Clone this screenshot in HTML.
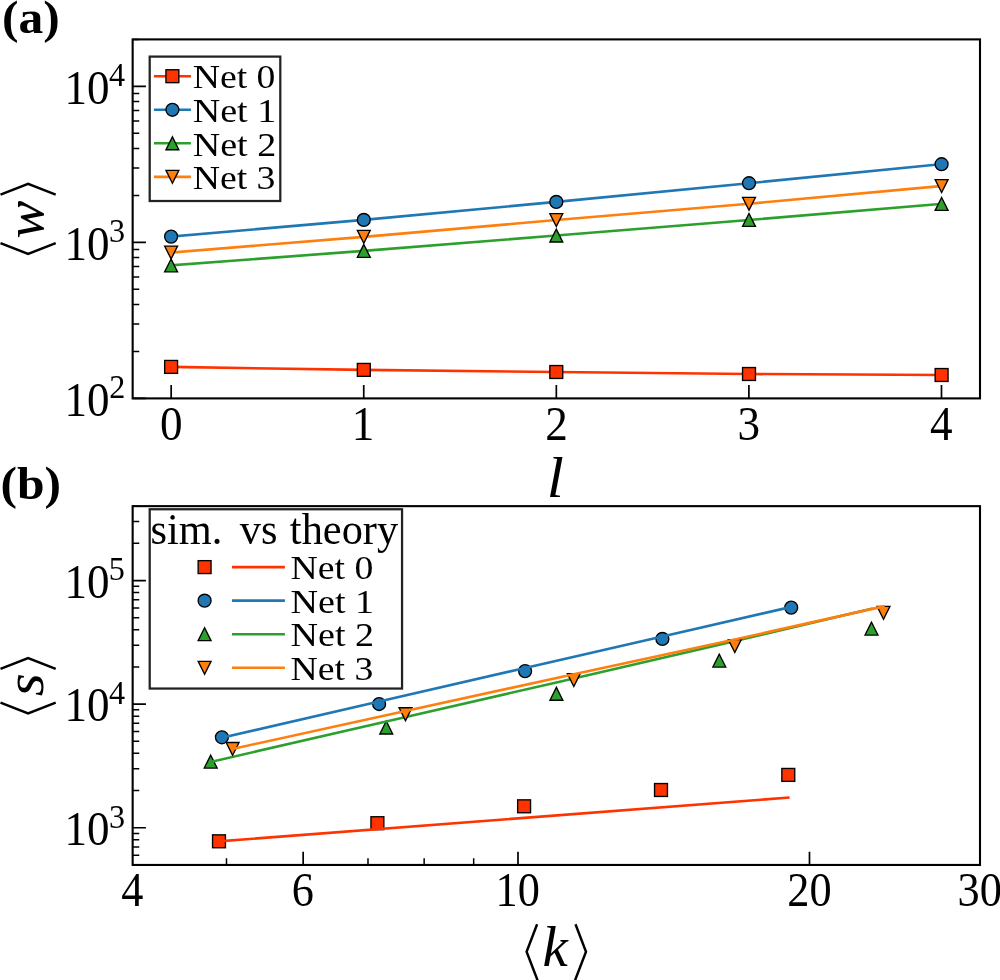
<!DOCTYPE html>
<html lang="en"><head><meta charset="utf-8"><title>Figure: mean weight and avalanche size</title>
<style>html,body{margin:0;padding:0;background:#fff}body{width:1000px;height:980px;overflow:hidden}svg{display:block;will-change:transform}text{font-family:"Liberation Serif",serif;fill:#000}</style></head><body>
<svg width="1000" height="980" viewBox="0 0 1000 980">
<rect width="1000" height="980" fill="#fff"/>
<g id="panel-a">
<path d="M132.65,398.4h13.3M132.65,242.38h13.3M132.65,86.37h13.3M171.17,398.4v-13.3M363.75,398.4v-13.3M556.33,398.4v-13.3M748.9,398.4v-13.3M941.48,398.4v-13.3" stroke="#000" stroke-width="1.7" fill="none"/>
<path d="M132.65,351.43h6.6M132.65,323.96h6.6M132.65,304.47h6.6M132.65,289.35h6.6M132.65,277h6.6M132.65,266.55h6.6M132.65,257.5h6.6M132.65,249.52h6.6M132.65,195.42h6.6M132.65,167.94h6.6M132.65,148.45h6.6M132.65,133.33h6.6M132.65,120.98h6.6M132.65,110.53h6.6M132.65,101.49h6.6M132.65,93.5h6.6M132.65,39.4h6.6" stroke="#000" stroke-width="1.5" fill="none"/>
<path d="M171.1,366.9L363.8,369.9L556.3,372L749,374L941.6,375" fill="none" stroke="#ff3300" stroke-width="2.6" stroke-linecap="square" stroke-linejoin="round"/>
<rect x="164.65" y="360.45" width="12.9" height="12.9" fill="#ff3300" stroke="#000" stroke-width="1.35" stroke-linejoin="miter"/>
<rect x="357.35" y="363.45" width="12.9" height="12.9" fill="#ff3300" stroke="#000" stroke-width="1.35" stroke-linejoin="miter"/>
<rect x="549.85" y="365.55" width="12.9" height="12.9" fill="#ff3300" stroke="#000" stroke-width="1.35" stroke-linejoin="miter"/>
<rect x="742.55" y="367.55" width="12.9" height="12.9" fill="#ff3300" stroke="#000" stroke-width="1.35" stroke-linejoin="miter"/>
<rect x="935.15" y="368.55" width="12.9" height="12.9" fill="#ff3300" stroke="#000" stroke-width="1.35" stroke-linejoin="miter"/>
<path d="M171.1,236.6L363.8,219.9L556.3,201.9L749,183.2L941.6,164.2" fill="none" stroke="#1f77b4" stroke-width="2.6" stroke-linecap="square" stroke-linejoin="round"/>
<circle cx="171.1" cy="236.6" r="6.45" fill="#1f77b4" stroke="#000" stroke-width="1.35"/>
<circle cx="363.8" cy="219.9" r="6.45" fill="#1f77b4" stroke="#000" stroke-width="1.35"/>
<circle cx="556.3" cy="201.9" r="6.45" fill="#1f77b4" stroke="#000" stroke-width="1.35"/>
<circle cx="749" cy="183.2" r="6.45" fill="#1f77b4" stroke="#000" stroke-width="1.35"/>
<circle cx="941.6" cy="164.2" r="6.45" fill="#1f77b4" stroke="#000" stroke-width="1.35"/>
<path d="M171.1,265.4L363.8,250.85L556.3,235.55L749,219.95L941.6,203.9" fill="none" stroke="#2ca02c" stroke-width="2.6" stroke-linecap="square" stroke-linejoin="round"/>
<path d="M171.1,258.95L164.65,271.85L177.55,271.85Z" fill="#2ca02c" stroke="#000" stroke-width="1.35" stroke-linejoin="miter"/>
<path d="M363.8,244.4L357.35,257.3L370.25,257.3Z" fill="#2ca02c" stroke="#000" stroke-width="1.35" stroke-linejoin="miter"/>
<path d="M556.3,229.1L549.85,242L562.75,242Z" fill="#2ca02c" stroke="#000" stroke-width="1.35" stroke-linejoin="miter"/>
<path d="M749,213.5L742.55,226.4L755.45,226.4Z" fill="#2ca02c" stroke="#000" stroke-width="1.35" stroke-linejoin="miter"/>
<path d="M941.6,197.45L935.15,210.35L948.05,210.35Z" fill="#2ca02c" stroke="#000" stroke-width="1.35" stroke-linejoin="miter"/>
<path d="M171.1,252.5L363.8,236.85L556.3,220.05L749,203.75L941.6,186" fill="none" stroke="#ff7f0e" stroke-width="2.6" stroke-linecap="square" stroke-linejoin="round"/>
<path d="M171.1,258.95L164.65,246.05L177.55,246.05Z" fill="#ff7f0e" stroke="#000" stroke-width="1.35" stroke-linejoin="miter"/>
<path d="M363.8,243.3L357.35,230.4L370.25,230.4Z" fill="#ff7f0e" stroke="#000" stroke-width="1.35" stroke-linejoin="miter"/>
<path d="M556.3,226.5L549.85,213.6L562.75,213.6Z" fill="#ff7f0e" stroke="#000" stroke-width="1.35" stroke-linejoin="miter"/>
<path d="M749,210.2L742.55,197.3L755.45,197.3Z" fill="#ff7f0e" stroke="#000" stroke-width="1.35" stroke-linejoin="miter"/>
<path d="M941.6,192.45L935.15,179.55L948.05,179.55Z" fill="#ff7f0e" stroke="#000" stroke-width="1.35" stroke-linejoin="miter"/>
<rect x="132.65" y="39.4" width="847.35" height="359" fill="none" stroke="#000" stroke-width="2.1"/>
<rect x="149.7" y="56.6" width="130.6" height="144.4" fill="#fff" fill-opacity="0.8" stroke="#222" stroke-width="2.25"/>
<path d="M155.2,76.2L189.6,76.2" fill="none" stroke="#ff3300" stroke-width="2.6" stroke-linecap="square" stroke-linejoin="round"/>
<rect x="165.95" y="69.75" width="12.9" height="12.9" fill="#ff3300" stroke="#000" stroke-width="1.35" stroke-linejoin="miter"/>
<text transform="translate(192.77,88.4) scale(1.0865,1)" font-size="34.7">Net 0</text>
<path d="M155.2,109.75L189.6,109.75" fill="none" stroke="#1f77b4" stroke-width="2.6" stroke-linecap="square" stroke-linejoin="round"/>
<circle cx="172.4" cy="109.75" r="6.45" fill="#1f77b4" stroke="#000" stroke-width="1.35"/>
<text transform="translate(192.76,121.95) scale(1.0968,1)" font-size="34.7">Net 1</text>
<path d="M155.2,143.3L189.6,143.3" fill="none" stroke="#2ca02c" stroke-width="2.6" stroke-linecap="square" stroke-linejoin="round"/>
<path d="M172.4,136.85L165.95,149.75L178.85,149.75Z" fill="#2ca02c" stroke="#000" stroke-width="1.35" stroke-linejoin="miter"/>
<text transform="translate(192.76,155.5) scale(1.0968,1)" font-size="34.7">Net 2</text>
<path d="M155.2,176.85L189.6,176.85" fill="none" stroke="#ff7f0e" stroke-width="2.6" stroke-linecap="square" stroke-linejoin="round"/>
<path d="M172.4,183.3L165.95,170.4L178.85,170.4Z" fill="#ff7f0e" stroke="#000" stroke-width="1.35" stroke-linejoin="miter"/>
<text transform="translate(192.77,189.05) scale(1.0865,1)" font-size="34.7">Net 3</text>
<text transform="translate(64.54,415.6) scale(0.9352,1)" font-size="48.18">10<tspan x="47.77" dy="-17.4" font-size="34.4">2</tspan></text>
<text transform="translate(64.54,259.58) scale(0.9352,1)" font-size="48.18">10<tspan x="47.43" dy="-17.4" font-size="34.4">3</tspan></text>
<text transform="translate(64.54,103.57) scale(0.9352,1)" font-size="48.18">10<tspan x="47.43" dy="-17.4" font-size="34.4">4</tspan></text>
<text transform="translate(159.88,439.5) scale(0.9200,1)" font-size="49.09">0</text>
<text transform="translate(351.78,439.5) scale(0.9200,1)" font-size="49.09">1</text>
<text transform="translate(545.26,439.5) scale(0.9200,1)" font-size="49.09">2</text>
<text transform="translate(737.39,439.5) scale(0.9200,1)" font-size="49.09">3</text>
<text transform="translate(929.97,439.5) scale(0.9200,1)" font-size="49.09">4</text>
<path d="M0.5,194.65L28.1,183.85L55.7,194.65M0.5,243.1L28.1,253.9L55.7,243.1" fill="none" stroke="#000" stroke-width="2.45" stroke-linejoin="miter" stroke-linecap="butt"/>
<text transform="translate(42.5,238.48) rotate(-90) scale(1.0503,1)" font-size="54" style="font-style:italic">w</text>
<text transform="translate(546.83,496.7) scale(1.0677,1)" font-size="57.54" style="font-style:italic">l</text>
<text transform="translate(2.02,32.5) scale(1.0540,1)" font-size="47" style="font-weight:bold">(a)</text>
</g>
<g id="panel-b">
<path d="M132.65,827.74h13.3M132.65,704.15h13.3M132.65,580.56h13.3M303.16,864.95v-13.3M517.99,864.95v-13.3M809.49,864.95v-13.3" stroke="#000" stroke-width="1.7" fill="none"/>
<path d="M132.65,864.95h6.6M132.65,855.16h6.6M132.65,846.89h6.6M132.65,839.72h6.6M132.65,833.4h6.6M132.65,790.54h6.6M132.65,768.78h6.6M132.65,753.33h6.6M132.65,741.36h6.6M132.65,731.57h6.6M132.65,723.3h6.6M132.65,716.13h6.6M132.65,709.81h6.6M132.65,666.95h6.6M132.65,645.18h6.6M132.65,629.74h6.6M132.65,617.77h6.6M132.65,607.98h6.6M132.65,599.7h6.6M132.65,592.54h6.6M132.65,586.22h6.6M132.65,543.36h6.6M132.65,521.59h6.6M132.65,506.15h6.6M226.49,864.95v-6.6M367.99,864.95v-6.6M424.15,864.95v-6.6M473.68,864.95v-6.6" stroke="#000" stroke-width="1.5" fill="none"/>
<rect x="212.55" y="834.85" width="12.9" height="12.9" fill="#ff3300" stroke="#000" stroke-width="1.35" stroke-linejoin="miter"/>
<rect x="370.95" y="816.75" width="12.9" height="12.9" fill="#ff3300" stroke="#000" stroke-width="1.35" stroke-linejoin="miter"/>
<rect x="517.65" y="799.85" width="12.9" height="12.9" fill="#ff3300" stroke="#000" stroke-width="1.35" stroke-linejoin="miter"/>
<rect x="654.55" y="783.55" width="12.9" height="12.9" fill="#ff3300" stroke="#000" stroke-width="1.35" stroke-linejoin="miter"/>
<rect x="781.85" y="768.45" width="12.9" height="12.9" fill="#ff3300" stroke="#000" stroke-width="1.35" stroke-linejoin="miter"/>
<path d="M219,841.3L788.3,797.6" fill="none" stroke="#ff3300" stroke-width="2.6" stroke-linecap="square" stroke-linejoin="round"/>
<circle cx="221.9" cy="737.3" r="6.45" fill="#1f77b4" stroke="#000" stroke-width="1.35"/>
<circle cx="379.1" cy="704" r="6.45" fill="#1f77b4" stroke="#000" stroke-width="1.35"/>
<circle cx="525.1" cy="671.1" r="6.45" fill="#1f77b4" stroke="#000" stroke-width="1.35"/>
<circle cx="662.4" cy="638.9" r="6.45" fill="#1f77b4" stroke="#000" stroke-width="1.35"/>
<circle cx="791.2" cy="607.6" r="6.45" fill="#1f77b4" stroke="#000" stroke-width="1.35"/>
<path d="M221.9,737.8L379.1,701.5L525.1,667.95L662.4,636.5L791.2,606.9" fill="none" stroke="#1f77b4" stroke-width="2.6" stroke-linecap="square" stroke-linejoin="round"/>
<path d="M210.7,755.15L204.25,768.05L217.15,768.05Z" fill="#2ca02c" stroke="#000" stroke-width="1.35" stroke-linejoin="miter"/>
<path d="M386.25,721.05L379.8,733.95L392.7,733.95Z" fill="#2ca02c" stroke="#000" stroke-width="1.35" stroke-linejoin="miter"/>
<path d="M556.4,687.35L549.95,700.25L562.85,700.25Z" fill="#2ca02c" stroke="#000" stroke-width="1.35" stroke-linejoin="miter"/>
<path d="M719.3,654.15L712.85,667.05L725.75,667.05Z" fill="#2ca02c" stroke="#000" stroke-width="1.35" stroke-linejoin="miter"/>
<path d="M871.5,622.15L865.05,635.05L877.95,635.05Z" fill="#2ca02c" stroke="#000" stroke-width="1.35" stroke-linejoin="miter"/>
<path d="M210.7,761.9L386.25,721.5L556.4,682.4L719.3,644.8L871.5,608.7" fill="none" stroke="#2ca02c" stroke-width="2.6" stroke-linecap="square" stroke-linejoin="round"/>
<path d="M232.6,755.35L226.15,742.45L239.05,742.45Z" fill="#ff7f0e" stroke="#000" stroke-width="1.35" stroke-linejoin="miter"/>
<path d="M405.5,720.65L399.05,707.75L411.95,707.75Z" fill="#ff7f0e" stroke="#000" stroke-width="1.35" stroke-linejoin="miter"/>
<path d="M573.8,686.45L567.35,673.55L580.25,673.55Z" fill="#ff7f0e" stroke="#000" stroke-width="1.35" stroke-linejoin="miter"/>
<path d="M734.8,652.55L728.35,639.65L741.25,639.65Z" fill="#ff7f0e" stroke="#000" stroke-width="1.35" stroke-linejoin="miter"/>
<path d="M883.5,619.25L877.05,606.35L889.95,606.35Z" fill="#ff7f0e" stroke="#000" stroke-width="1.35" stroke-linejoin="miter"/>
<path d="M232.6,748.9L405.5,711L573.8,674.2L734.8,639.5L883.5,606.4" fill="none" stroke="#ff7f0e" stroke-width="2.6" stroke-linecap="square" stroke-linejoin="round"/>
<rect x="132.65" y="506.15" width="847.35" height="358.8" fill="none" stroke="#000" stroke-width="2.1"/>
<rect x="149.7" y="509.25" width="252.35" height="179.3" fill="#fff" fill-opacity="0.8" stroke="#222" stroke-width="2.25"/>
<text transform="translate(0,544.1) scale(0.972,1)" font-size="43.62"><tspan x="154.94">sim.</tspan> <tspan x="246.6">vs</tspan> <tspan x="298.23">theory</tspan></text>
<rect x="198.15" y="560.65" width="12.9" height="12.9" fill="#ff3300" stroke="#000" stroke-width="1.35" stroke-linejoin="miter"/>
<path d="M233.3,567.1L283.6,567.1" fill="none" stroke="#ff3300" stroke-width="2.6" stroke-linecap="square" stroke-linejoin="round"/>
<text transform="translate(290.57,579.3) scale(1.0865,1)" font-size="34.7">Net 0</text>
<circle cx="204.6" cy="600.65" r="6.45" fill="#1f77b4" stroke="#000" stroke-width="1.35"/>
<path d="M233.3,600.65L283.6,600.65" fill="none" stroke="#1f77b4" stroke-width="2.6" stroke-linecap="square" stroke-linejoin="round"/>
<text transform="translate(290.56,612.85) scale(1.0968,1)" font-size="34.7">Net 1</text>
<path d="M204.6,627.75L198.15,640.65L211.05,640.65Z" fill="#2ca02c" stroke="#000" stroke-width="1.35" stroke-linejoin="miter"/>
<path d="M233.3,634.2L283.6,634.2" fill="none" stroke="#2ca02c" stroke-width="2.6" stroke-linecap="square" stroke-linejoin="round"/>
<text transform="translate(290.56,646.4) scale(1.0968,1)" font-size="34.7">Net 2</text>
<path d="M204.6,674.2L198.15,661.3L211.05,661.3Z" fill="#ff7f0e" stroke="#000" stroke-width="1.35" stroke-linejoin="miter"/>
<path d="M233.3,667.75L283.6,667.75" fill="none" stroke="#ff7f0e" stroke-width="2.6" stroke-linecap="square" stroke-linejoin="round"/>
<text transform="translate(290.57,679.95) scale(1.0865,1)" font-size="34.7">Net 3</text>
<text transform="translate(64.54,844.94) scale(0.9352,1)" font-size="48.18">10<tspan x="47.43" dy="-17.4" font-size="34.4">3</tspan></text>
<text transform="translate(64.54,721.35) scale(0.9352,1)" font-size="48.18">10<tspan x="47.43" dy="-17.4" font-size="34.4">4</tspan></text>
<text transform="translate(64.54,597.76) scale(0.9352,1)" font-size="48.18">10<tspan x="47.26" dy="-17.4" font-size="34.4">5</tspan></text>
<text transform="translate(121.35,906) scale(0.9200,1)" font-size="48.18">4</text>
<text transform="translate(291.86,906) scale(0.9200,1)" font-size="48.18">6</text>
<text transform="translate(495.52,906) scale(0.9200,1)" font-size="48.18">10</text>
<text transform="translate(787.32,906) scale(0.9200,1)" font-size="48.18">20</text>
<text transform="translate(957.61,906) scale(0.9200,1)" font-size="48.18">30</text>
<path d="M0.5,668.95L28.1,658.15L55.7,668.95M0.5,702.6L28.1,713.4L55.7,702.6" fill="none" stroke="#000" stroke-width="2.45" stroke-linejoin="miter" stroke-linecap="butt"/>
<text transform="translate(42.5,696.34) rotate(-90) scale(1.0753,1)" font-size="55" style="font-style:italic">s</text>
<path d="M537.1,924.3L526.6,951.7L537.83,981M575.5,924.3L586.0,951.7L574.77,981" fill="none" stroke="#000" stroke-width="2.45" stroke-linejoin="miter"/>
<text transform="translate(542.59,965.9) scale(1.0159,1)" font-size="56.09" style="font-style:italic">k</text>
<text transform="translate(0.52,499.2) scale(1.0545,1)" font-size="47" style="font-weight:bold">(b)</text>
</g>
</svg></body></html>
